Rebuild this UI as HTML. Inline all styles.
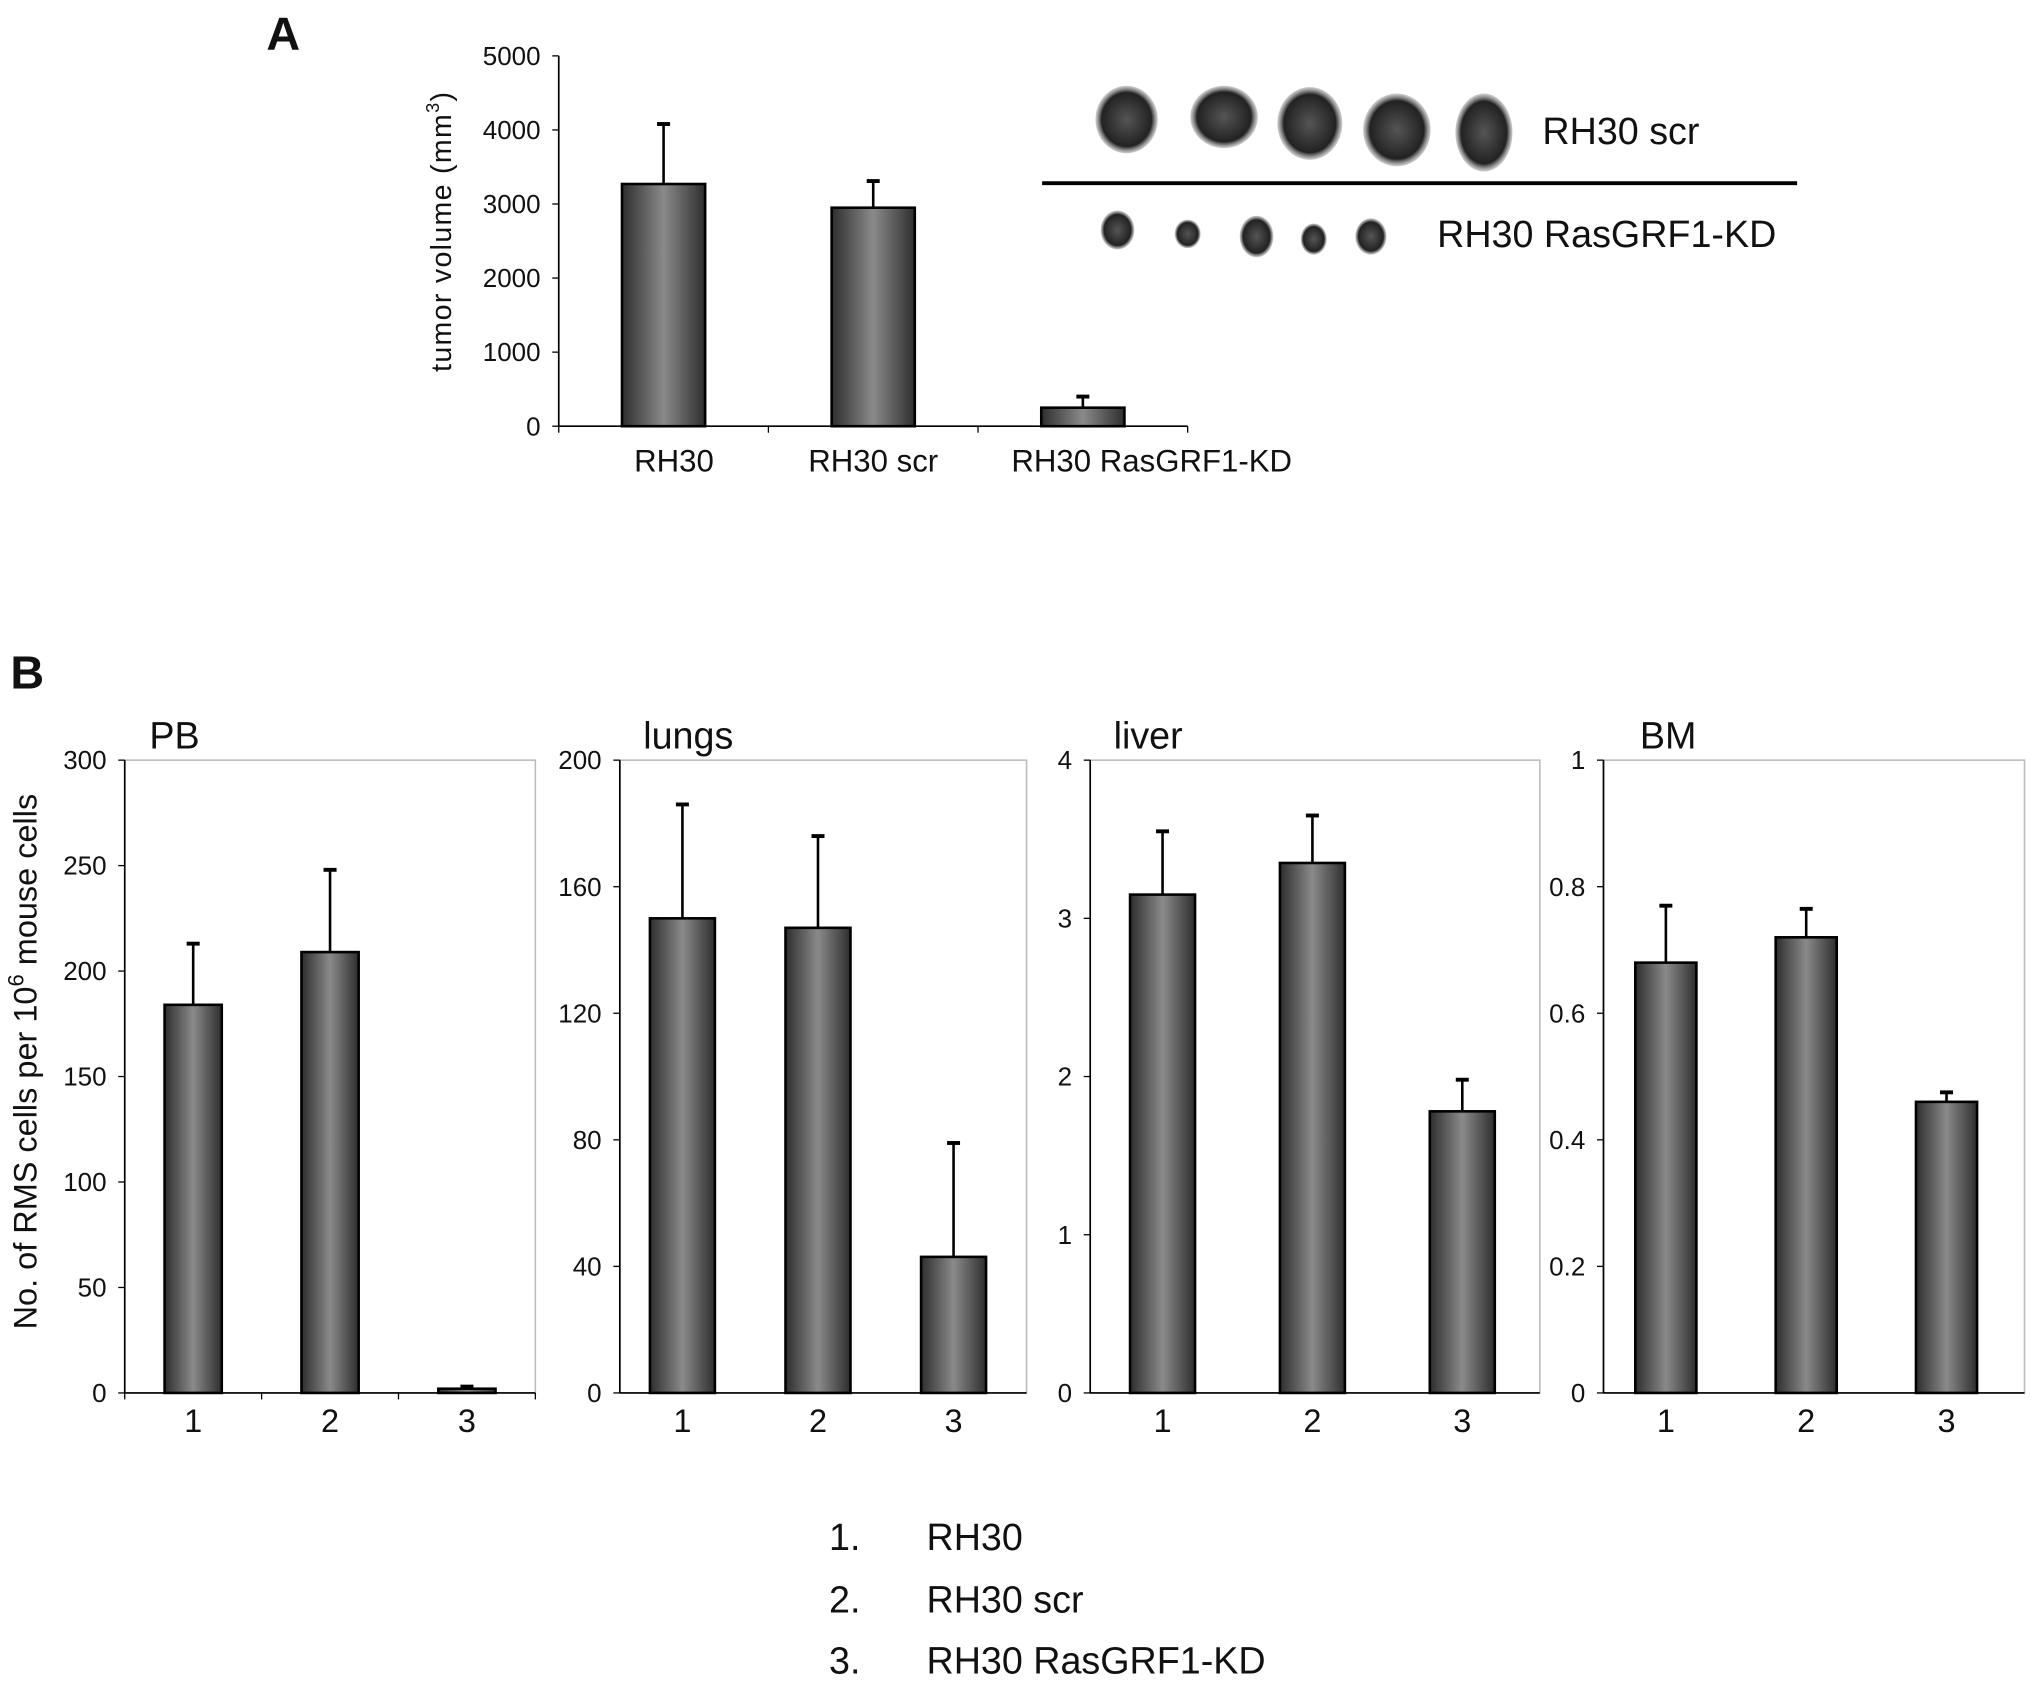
<!DOCTYPE html>
<html><head><meta charset="utf-8"><style>html,body{margin:0;padding:0;background:#fff}svg{display:block}text{font-family:"Liberation Sans",Arial,sans-serif;fill:#111}</style></head>
<body>
<svg id="fig" xmlns="http://www.w3.org/2000/svg" width="2031" height="1684" viewBox="0 0 1563 1296" preserveAspectRatio="none">
<defs>
<linearGradient id="bg" x1="0" x2="1" y1="0" y2="0"><stop offset="0" stop-color="#2e2e2e"/><stop offset="0.5" stop-color="#8a8a8a"/><stop offset="1" stop-color="#2e2e2e"/></linearGradient>
<radialGradient id="tum"><stop offset="0" stop-color="#555"/><stop offset="0.8" stop-color="#222"/><stop offset="1" stop-color="#666" stop-opacity="0.3"/></radialGradient>
</defs>
<text x="205" y="38" font-size="36" font-weight="bold">A</text>
<text x="8" y="530" font-size="36" font-weight="bold">B</text>
<g id="photo">
<line x1="802" y1="141" x2="1383" y2="141" stroke="#000" stroke-width="3"/>
<text x="1187" y="111" font-size="29">RH30 scr</text>
<text x="1106" y="190" font-size="29">RH30 RasGRF1-KD</text>
</g>
<text transform="translate(347,178) rotate(-90)" text-anchor="middle" font-size="22" letter-spacing="1">tumor volume (mm<tspan dy="-9" font-size="14">3</tspan><tspan dy="9">)</tspan></text>
<text transform="translate(28,817) rotate(-90)" text-anchor="middle" font-size="25">No. of RMS cells per 10<tspan dy="-10" font-size="17">6</tspan><tspan dy="10"> mouse cells</tspan></text>
<g font-size="29">
<text x="638" y="1193">1.</text><text x="713" y="1193">RH30</text>
<text x="638" y="1241">2.</text><text x="713" y="1241">RH30 scr</text>
<text x="638" y="1288">3.</text><text x="713" y="1288">RH30 RasGRF1-KD</text>
</g>
</svg>
<script>
const NS="http://www.w3.org/2000/svg";
const svg=document.getElementById('fig');
const aCats=["RH30","RH30 scr","RH30 RasGRF1-KD"];
const aVals=[3270,2950,250];
const aErr=[4080,3310,400];
const aTicks=[0,1000,2000,3000,4000,5000];
const pbVals=[184,209,2]; const pbErr=[213,248,3]; const pbTicks=[0,50,100,150,200,250,300];
const lungVals=[150,147,43]; const lungErr=[186,176,79]; const lungTicks=[0,40,80,120,160,200];
const liverVals=[3.15,3.35,1.78]; const liverErr=[3.55,3.65,1.98]; const liverTicks=[0,1,2,3,4];
const bmVals=[0.68,0.72,0.46]; const bmErr=[0.77,0.765,0.475]; const bmTicks=["0","0.2","0.4","0.6","0.8","1"];
const bCats=["1","2","3"];
function el(t,a,p){const e=document.createElementNS(NS,t);for(const k in a)e.setAttribute(k,a[k]);(p||svg).appendChild(e);return e;}
function chart(o){
  const g=el('g',{});
  
  
  const ticks=o.ticks.map(Number);const max=ticks[ticks.length-1];
  const y=v=>o.y0-(v/max)*(o.y0-o.y1);
  if(o.box){el('rect',{x:o.x0,y:o.y1,width:o.x1-o.x0,height:o.y0-o.y1,fill:'none',stroke:'#bbb','stroke-width':1.2},g);}
  el('line',{x1:o.x0,y1:o.y1,x2:o.x0,y2:o.y0,stroke:'#000','stroke-width':1.3},g);
  el('line',{x1:o.x0,y1:o.y0,x2:o.x1,y2:o.y0,stroke:'#000','stroke-width':1.3},g);
  o.ticks.forEach((t,i)=>{const yy=y(Number(t));
    el('line',{x1:o.x0-5,y1:yy,x2:o.x0,y2:yy,stroke:'#000'},g);
    const tx=el('text',{x:o.x0-14,y:yy+7,'text-anchor':'end','font-size':o.tfs,fill:'#222'},g);tx.textContent=t;
    
    });
  const n=o.vals.length;const slot=(o.x1-o.x0)/n;
  for(let i=0;i<=n;i++){if(o.xt) el('line',{x1:o.x0+i*slot,y1:o.y0,x2:o.x0+i*slot,y2:o.y0+5,stroke:'#000'},g);}
  o.vals.forEach((v,i)=>{
    const cx=o.x0+slot*(i+0.5)+(o.off||0);const bw=o.bw;
    const ey=y(o.err[i]);
    const eb=el('line',{x1:cx,y1:y(v),x2:cx,y2:ey,stroke:'#000','stroke-width':2},g);
    
    
    el('line',{x1:cx-5,y1:ey,x2:cx+5,y2:ey,stroke:'#000','stroke-width':3},g);
    const r=el('rect',{x:cx-bw/2,y:y(v),width:bw,height:o.y0-y(v),fill:'url(#bg)',stroke:'#000','stroke-width':2},g);
    
    
    const lx=cx+(o.loff?o.loff[i]:0);
    const lt=el('text',{x:lx,y:o.ly,'text-anchor':'middle','font-size':o.lfs},g);lt.textContent=o.cats[i];
    
    
  });
  if(o.title){const t=el('text',{x:o.tx,y:o.y1-9,'font-size':29},g);t.textContent=o.title;
    
    }
}
chart({name:'tumor-volume-chart',x0:430,x1:914,y0:328,y1:43,ticks:aTicks,vals:aVals,err:aErr,cats:aCats,bw:64,tfs:20,lfs:24,ly:363,xt:true,off:0,loff:[8,0,53]});
chart({name:'pb-chart',x0:96,x1:412,y0:1072,y1:585,ticks:pbTicks,vals:pbVals,err:pbErr,cats:bCats,bw:44,tfs:20,lfs:25,ly:1102,box:true,xt:true,title:'PB',tx:115});
chart({name:'lungs-chart',x0:477,x1:790,y0:1072,y1:585,ticks:lungTicks,vals:lungVals,err:lungErr,cats:bCats,bw:50,tfs:20,lfs:25,ly:1102,box:true,title:'lungs',tx:495,off:-4});
chart({name:'liver-chart',x0:839,x1:1185,y0:1072,y1:585,ticks:liverTicks,vals:liverVals,err:liverErr,cats:bCats,bw:50,tfs:20,lfs:25,ly:1102,box:true,title:'liver',tx:857,off:-2});
chart({name:'bm-chart',x0:1234,x1:1558,y0:1072,y1:585,ticks:bmTicks,vals:bmVals,err:bmErr,cats:bCats,bw:47,tfs:20,lfs:25,ly:1102,box:true,title:'BM',tx:1262,off:-6});
const photo=document.getElementById('photo');
[[867,92,24,26],[942,90,26,24],[1008,95,25,28],[1075,100,26,28],[1142,102,22,30]].forEach(a=>{const e=el('ellipse',{cx:a[0],cy:a[1],rx:a[2],ry:a[3],fill:'url(#tum)'},photo);
  
  });
[[860,177,13,15],[914,180,10,11],[967,182,13,16],[1011,184,10,12],[1055,182,12,14]].forEach(a=>{const e=el('ellipse',{cx:a[0],cy:a[1],rx:a[2],ry:a[3],fill:'url(#tum)'},photo);
  
  });
</script>
</body></html>
